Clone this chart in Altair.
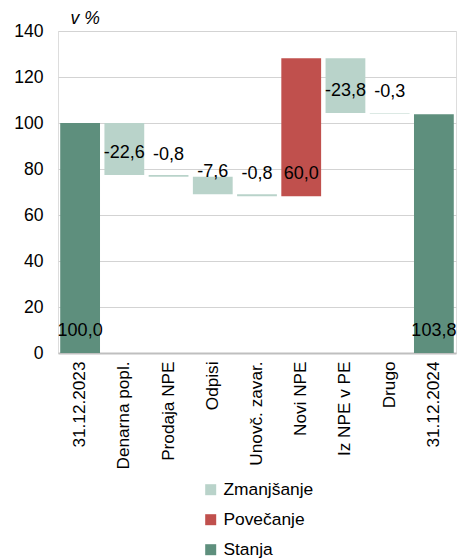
import altair as alt
import pandas as pd

categories = ["31.12.2023", "Denarna popl.", "Prodaja NPE", "Odpisi", "Unovč. zavar.",
              "Novi NPE", "Iz NPE v PE", "Drugo", "31.12.2024"]
changes = [100.0, -22.6, -0.8, -7.6, -0.8, 60.0, -23.8, -0.3, 103.8]
kinds = ["Stanja", "Zmanjšanje", "Zmanjšanje", "Zmanjšanje", "Zmanjšanje",
         "Povečanje", "Zmanjšanje", "Zmanjšanje", "Stanja"]
legend_order = ["Zmanjšanje", "Povečanje", "Stanja"]
legend_colors = ["#B9D3CA", "#C0504D", "#5E8F7D"]
y_ticks = [0, 20, 40, 60, 80, 100, 120, 140]

rows = []
level = 0.0
for cat, d, k in zip(categories, changes, kinds):
    if k == "Stanja":
        start, end = 0.0, d
    else:
        start, end = level, level + d
    level = end
    rows.append(dict(cat=cat, start=start, end=end, low=min(start, end), kind=k,
                     label=f"{d:.1f}".replace(".", ",")))
df = pd.DataFrame(rows)

FONT = "Liberation Sans"

base = alt.Chart(df).encode(
    x=alt.X("cat:N", sort=categories,
            scale=alt.Scale(paddingInner=0.1, paddingOuter=0.05),
            axis=alt.Axis(title=None, labelAngle=-90, labelFontSize=17.2, labelPadding=8,
                          ticks=False, domainColor="#BFBFBF", domainWidth=2,
                          labelColor="black", labelFont=FONT))
)

bars = base.mark_bar().encode(
    y=alt.Y("start:Q", scale=alt.Scale(domain=[0, 140], nice=False),
            axis=alt.Axis(values=y_ticks, grid=True, gridColor="#D3D3D3", domain=False,
                          ticks=False, labelPadding=15, labelFontSize=17.6, labelColor="black",
                          labelFont=FONT, title="v %", titleAngle=0, titleAlign="left",
                          titleBaseline="middle", titleX=12, titleY=-13,
                          titleFontStyle="italic", titleFontWeight="normal",
                          titleFontSize=17.6, titleColor="black", titleFont=FONT)),
    y2="end:Q",
    color=alt.Color("kind:N",
                    scale=alt.Scale(domain=legend_order, range=legend_colors),
                    legend=alt.Legend(title=None, orient="none", legendX=144, legendY=450,
                                      direction="vertical", symbolType="square",
                                      symbolSize=121, symbolStrokeWidth=0,
                                      labelFontSize=17.4, labelFont=FONT, labelColor="black",
                                      rowPadding=11, labelOffset=4)),
)

text = base.mark_text(dy=-22, fontSize=18, font=FONT, color="black").encode(
    y=alt.Y("low:Q"),
    text="label:N",
)

chart = alt.layer(bars, text).properties(
    width=398, height=322,
    padding={"left": 5, "top": 1, "right": 0, "bottom": 0},
).configure_view(stroke=None).configure(font=FONT)

chart.save("out.html", embed_options={"renderer": "svg", "actions": False})
